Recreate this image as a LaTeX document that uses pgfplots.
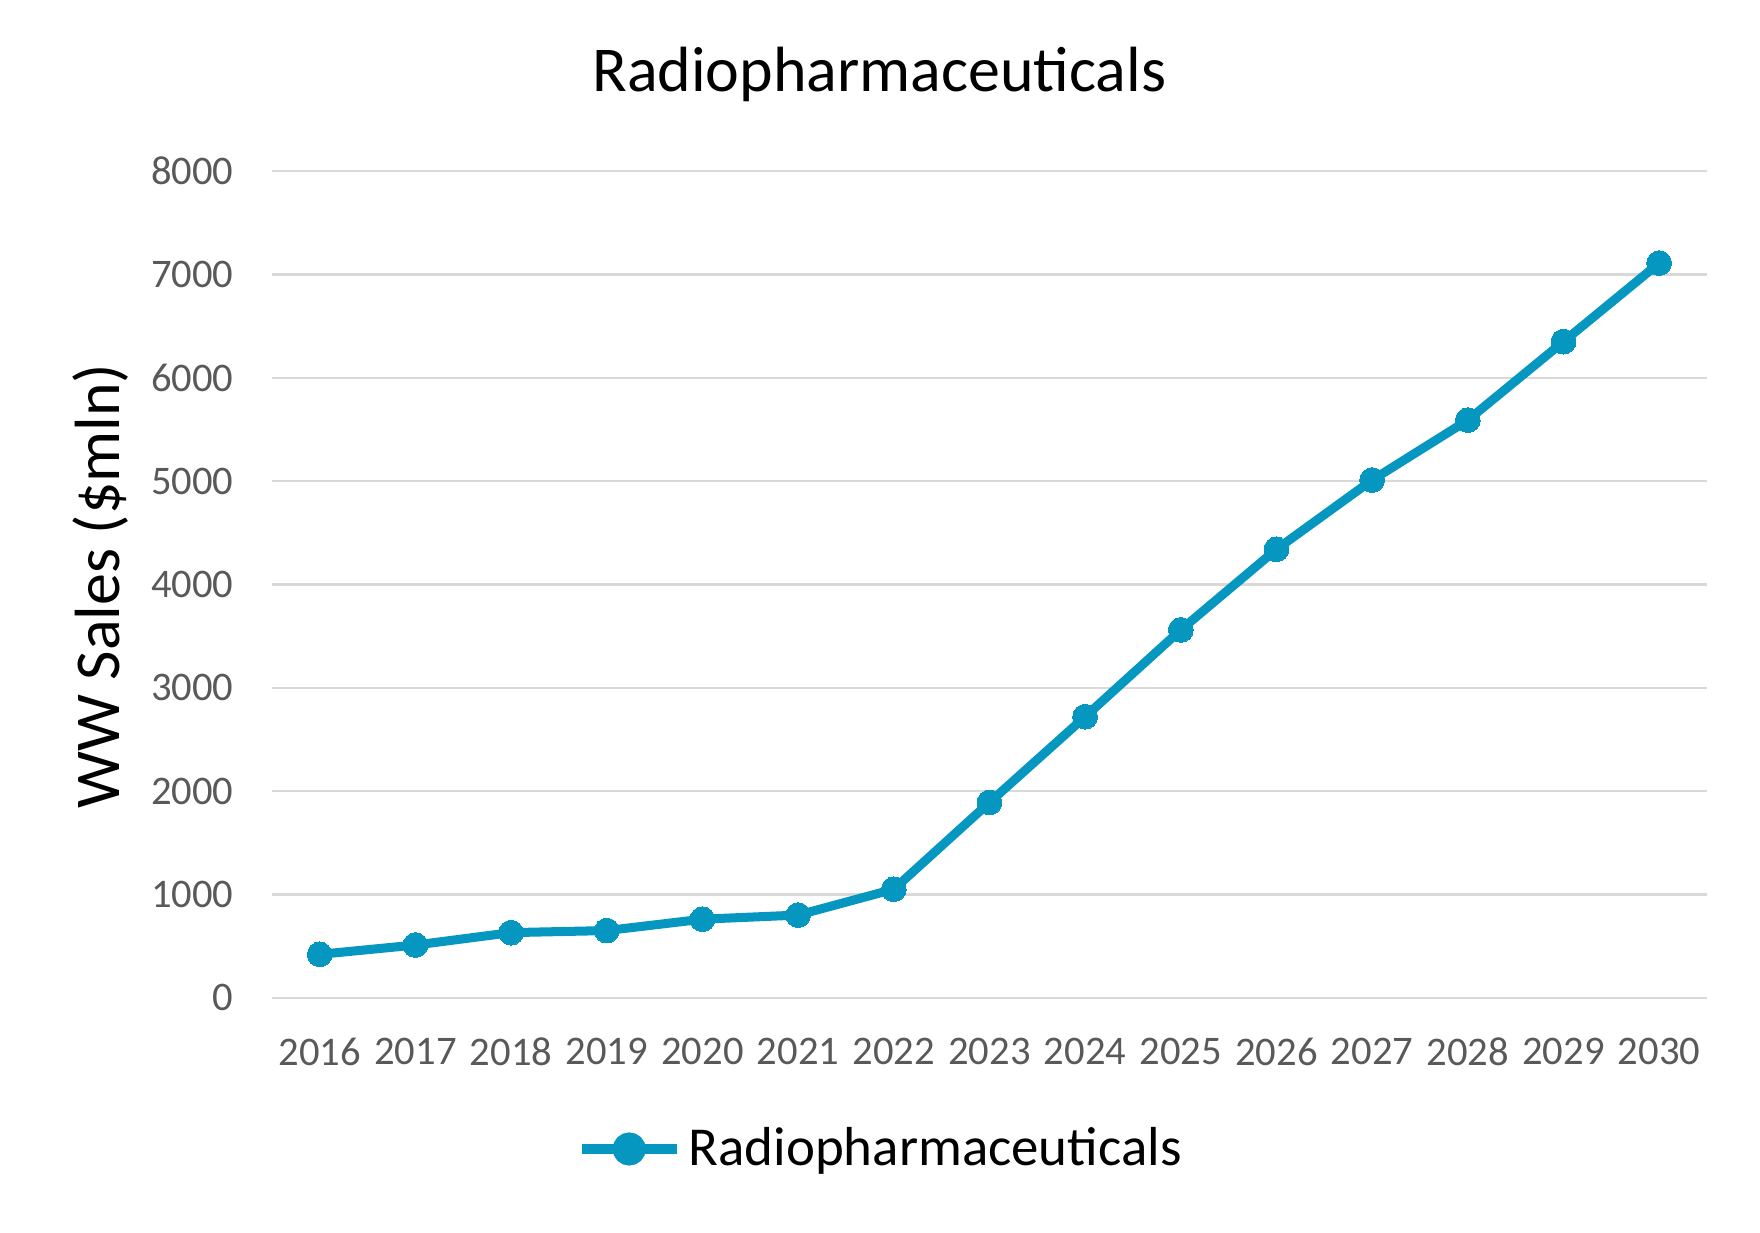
\documentclass[border=0pt]{standalone}
\usepackage{fontspec}
\setmainfont{Carlito}
\usepackage{pgfplots}
\pgfplotsset{compat=1.18}
\definecolor{radio}{RGB}{5,151,192}
\definecolor{gridgray}{RGB}{217,217,217}
\definecolor{ticktext}{RGB}{89,89,89}
\begin{document}
\begin{tikzpicture}[x=1pt,y=1pt]
\useasboundingbox (0,0) rectangle (468,327.6);
\begin{axis}[
    at={(72.3pt,62.3pt)}, anchor=south west,
    scale only axis,
    width=381.6pt, height=219.8pt,
    xmin=-0.5, xmax=14.5,
    ymin=0, ymax=8000,
    xtick={0,...,14},
    xticklabels={2016,2017,2018,2019,2020,2021,2022,2023,2024,2025,2026,2027,2028,2029,2030},
    ytick={0,1000,...,8000},
    /pgf/number format/assume math mode=true,
    /pgf/number format/1000 sep={},
    axis line style={draw=none},
    major tick length=0pt,
    ymajorgrids,
    grid style={gridgray, line width=0.6pt},
    ticklabel style={font=\fontsize{10.8}{12}\selectfont, text=ticktext, inner sep=0pt},
    yticklabel style={anchor=east, xshift=-10pt},
    xticklabel style={anchor=north, yshift=-10.5pt},
    title={\fontsize{17}{20}\selectfont Radiopharmaceuticals},
    every axis title/.style={at={(axis description cs:0.4233,1.117)}, anchor=center},
    ylabel={\fontsize{17}{20}\selectfont WW Sales (\$mln)},
    every axis y label/.style={at={(axis description cs:-0.1197,0.498)}, rotate=90, anchor=center},
    legend style={at={(0.426,-0.183)}, anchor=center, draw=none, fill=none,
        font=\fontsize{14.6}{17}\selectfont, inner sep=0pt,
        /tikz/every even column/.append style={column sep=0pt}},
    legend cell align=left,
    legend image code/.code={
        \draw[#1, mark=none] (0pt,0pt) -- (25.2pt,0pt);
        \fill[radio] (12.6pt,0pt) circle (3.2pt);
    },
    clip=false,
]
\addplot[radio, line width=2.4pt, mark=*, mark size=3.3pt, mark options={fill=radio, draw=radio, line width=0pt}] coordinates {
    (0,420) (1,510) (2,630) (3,650) (4,760) (5,800) (6,1050) (7,1890)
    (8,2720) (9,3560) (10,4340) (11,5010) (12,5590) (13,6350) (14,7110)
};
\addlegendentry{Radiopharmaceuticals}
\end{axis}
\end{tikzpicture}
\end{document}
